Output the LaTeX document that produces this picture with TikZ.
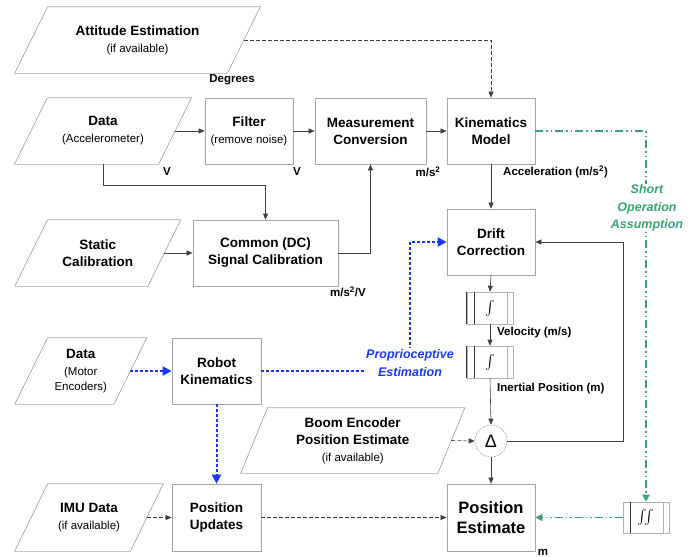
\documentclass[tikz,border=0pt]{standalone}
\usepackage{amsmath}
\usepackage{fontspec}
\setmainfont{Liberation Sans}
\usetikzlibrary{arrows.meta}

\definecolor{propblue}{RGB}{25,55,255}
\definecolor{assgreen}{RGB}{55,165,115}

\newcommand{\subtxt}[1]{{\mdseries\fontsize{11.5}{14}\selectfont #1}}

\tikzset{
  blk/.style={draw=gray!70, line width=0.7pt, fill=white, align=center,
    minimum width=88, minimum height=66, inner sep=1pt,
    font=\bfseries\fontsize{13.5}{17}\selectfont},
  io/.style={blk, draw=none, fill=none},
  intbox/.style={draw=gray!60, line width=0.6pt, minimum width=46,
    minimum height=32, inner sep=0pt, font=\fontsize{15}{15}\selectfont},
  lbl/.style={font=\bfseries\fontsize{11.5}{13}\selectfont, inner sep=0pt},
  flow/.style={draw=black!75, line width=0.6pt,
    -{Triangle[length=6pt,width=5pt]}},
  opt/.style={flow, dash pattern=on 4pt off 2pt},
  prop/.style={draw=propblue, line width=2pt, dash pattern=on 2.5pt off 2.5pt,
    -{Triangle[length=9pt,width=9pt]}},
  ass/.style={draw=assgreen, line width=1.2pt,
    dash pattern=on 8pt off 3pt on 1.5pt off 3pt on 1.5pt off 3pt,
    -{Triangle[length=7pt,width=7pt]}},
}

\begin{document}
\begin{tikzpicture}[x=1pt,y=-1pt]
\useasboundingbox (0,0) rectangle (694,557);

% data inputs (parallelograms drawn below)
\node[io, minimum width=212] (att) at (137.5,40)
  {Attitude Estimation\\\subtxt{(if available)}};
\node[io, minimum width=143.5] (acc) at (103,131)
  {Data\\\subtxt{(Accelerometer)}};
\node[io, minimum width=132.5] (stat) at (97.75,253)
  {Static\\Calibration};
\node[io, minimum width=98.5] (mot) at (80.75,371)
  {Data\\\subtxt{(Motor}\\[-2pt]\subtxt{Encoders)}};
\node[io, minimum width=115, minimum height=67] (imu) at (89,517.5)
  {IMU Data\\\subtxt{(if available)}};
\node[io, minimum width=196.5, minimum height=65] (boom) at (352.75,440.5)
  {Boom Encoder\\Position Estimate\\\subtxt{(if available)}};

\foreach \n/\s in {att/16.5,acc/16.5,stat/16.5,mot/16.5,imu/16.5,boom/13.5}
  \draw[draw=gray!70, line width=0.7pt]
    ([xshift=-\s]\n.south west) -- ([xshift=-\s]\n.south east) --
    ([xshift=\s]\n.north east) -- ([xshift=\s]\n.north west) -- cycle;

% processing blocks
\node[blk] (filt) at (249,131) {Filter\\\subtxt{(remove noise)}};
\node[blk, minimum width=111] (meas) at (370.5,131) {Measurement\\Conversion};
\node[blk] (kin) at (491,131) {Kinematics\\Model};
\node[blk, minimum width=145] (comm) at (265.5,253) {Common (DC)\\Signal Calibration};
\node[blk] (drift) at (491,242) {Drift\\Correction};
\node[blk, minimum width=89] (robot) at (216.5,371) {Robot\\Kinematics};
\node[blk, minimum width=89, minimum height=67] (upd) at (216.5,517.5) {Position\\Updates};
\node[blk, minimum height=67, font=\bfseries\fontsize{16.5}{20}\selectfont]
  (est) at (491,517.5) {Position\\Estimate};

% integrators
\node[intbox] (int1) at (490,308) {$\int$};
\node[intbox] (int2) at (490,362) {$\int$};
\node[intbox, minimum height=31] (dd) at (646,517.5) {$\iint$};
\foreach \n in {int1,int2,dd} {
  \draw[black!80, line width=0.7pt] ([xshift=8]\n.north west) -- ([xshift=8]\n.south west);
  \draw[gray!60, line width=0.6pt] ([xshift=-6]\n.north east) -- ([xshift=-6]\n.south east);
}
\draw[black!80, line width=0.7pt] (int1.north west) -- (int1.south west);
\draw[black!80, line width=0.7pt] (int2.north west) -- (int2.south west);

\node[circle, draw=gray!70, line width=0.6pt, dash pattern=on 2pt off 1pt,
  minimum size=32, inner sep=0pt, font=\fontsize{18}{18}\selectfont]
  (delta) at (491,441) {Δ};

% connectors
\draw[opt] (att.east) -| (kin.north);
\draw[flow] (acc.east) -- (filt.west);
\draw[flow] (filt.east) -- (meas.west);
\draw[flow] (meas.east) -- (kin.west);
\draw[flow] (acc.south) -- ++(0,21) -| (comm.north);
\draw[flow] (stat.east) -- (comm.west);
\draw[flow] (comm.east) -| (meas.south);
\draw[flow] (kin.south) -- (drift.north);
\draw[flow] (drift.south) -- (int1.north);
\draw[flow] (int1.south) -- (int2.north);
\draw[flow] (int2.south) -- (delta.north);
\coordinate (fb) at (623,441);
\draw[flow] (delta.east) -- (fb) |- (drift.east);
\draw[opt] (boom.east) -- (delta.west);
\draw[flow] (delta.south) -- (est.north);
\draw[opt] (imu.east) -- (upd.west);
\draw[opt] (upd.east) -- (est.west);

% proprioceptive path
\coordinate (pc) at (410,371);
\draw[prop] (mot.east) -- (robot.west);
\draw[prop] (robot.east) -- (pc) |- (drift.west);
\draw[prop] (robot.south) -- (upd.north);
\node[fill=white, inner sep=1pt, align=center, text=propblue,
  font=\bfseries\itshape\fontsize{12.5}{18}\selectfont] (proplbl) at (410,363)
  {Proprioceptive\\Estimation};

% short operation assumption
\draw[ass] (kin.east) -| (dd.north);
\draw[ass] (dd.west) -- (est.east);
\node[fill=white, inner sep=1pt, align=center, text=assgreen,
  font=\bfseries\itshape\fontsize{12.5}{17.5}\selectfont] (asslbl) at (647,208)
  {Short\\Operation\\Assumption};

% units
\node[lbl] (ldeg) at (232,80) {Degrees};
\node[lbl] (lv1) at (167,172) {V};
\node[lbl] (lv2) at (297,172) {V};
\node[lbl] (lms) at (428,172) {m/s\textsuperscript{2}};
\node[lbl, anchor=west] (lacc) at (503,172) {Acceleration (m/s\textsuperscript{2})};
\node[lbl] (lmsv) at (348,292) {m/s\textsuperscript{2}/V};
\node[lbl, anchor=west] (lvel) at (497,333) {Velocity (m/s)};
\node[lbl, anchor=west] (lpos) at (497,389) {Inertial Position (m)};
\node[lbl] (lm) at (543,552) {m};

\end{tikzpicture}
\end{document}
